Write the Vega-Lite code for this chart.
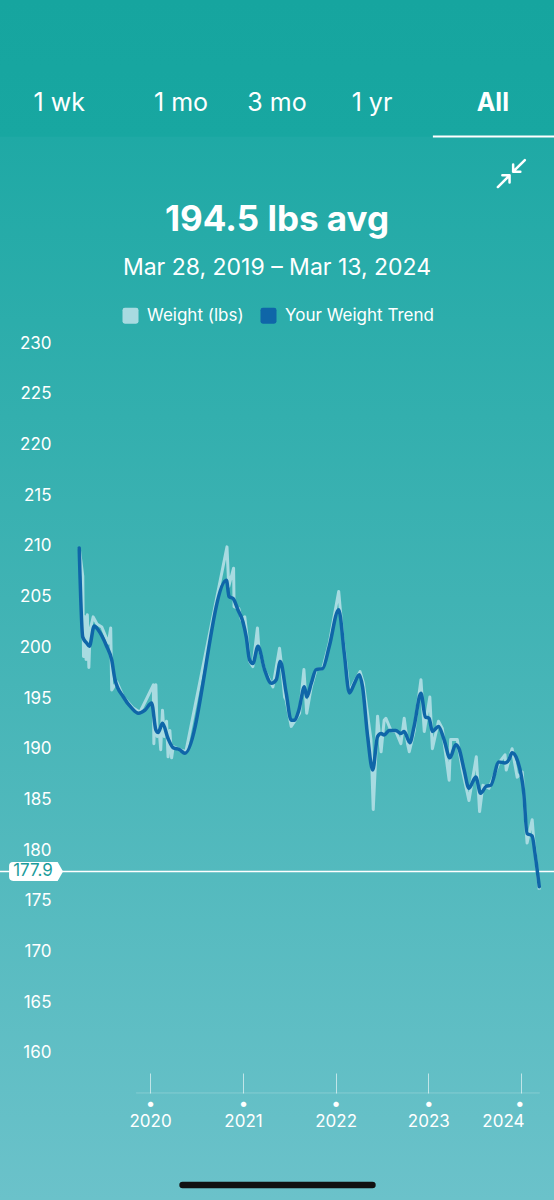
{
  "$schema": "https://vega.github.io/schema/vega-lite/v6.json",
  "width": 554,
  "height": 1200,
  "autosize": {"type": "none"},
  "padding": 0,
  "background": "#17a6a0",
  "config": {
    "font": "Inter",
    "view": {
      "stroke": null,
      "fill": {
        "gradient": "linear", "x1": 0, "y1": 0, "x2": 0, "y2": 1,
        "stops": [
          {"offset": 0, "color": "#16a59f"},
          {"offset": 0.1135, "color": "#18a7a1"},
          {"offset": 0.1145, "color": "#1fa9a5"},
          {"offset": 0.5, "color": "#40b3b4"},
          {"offset": 1, "color": "#6bc2ca"}
        ]
      }
    }
  },
  "title": {
    "text": "194.5 lbs avg",
    "subtitle": "Mar 28, 2019 – Mar 13, 2024",
    "anchor": "middle",
    "frame": "group",
    "font": "Inter",
    "fontSize": 35,
    "fontWeight": "bold",
    "color": "white",
    "subtitleFont": "Inter",
    "subtitleFontSize": 23,
    "subtitleColor": "white",
    "subtitlePadding": 19,
    "offset": -280
  },
  "datasets": {
    "weight": [
      {"date": "2019-03-28", "lbs": 209.8},
      {"date": "2019-04-11", "lbs": 207.0},
      {"date": "2019-04-14", "lbs": 199.1},
      {"date": "2019-04-20", "lbs": 203.0},
      {"date": "2019-04-24", "lbs": 198.8},
      {"date": "2019-04-29", "lbs": 203.2},
      {"date": "2019-05-05", "lbs": 198.0},
      {"date": "2019-05-10", "lbs": 201.7},
      {"date": "2019-05-22", "lbs": 203.0},
      {"date": "2019-06-06", "lbs": 202.3},
      {"date": "2019-06-25", "lbs": 202.0},
      {"date": "2019-07-21", "lbs": 200.4},
      {"date": "2019-07-30", "lbs": 201.9},
      {"date": "2019-08-03", "lbs": 195.8},
      {"date": "2019-08-23", "lbs": 196.6},
      {"date": "2019-09-18", "lbs": 195.1},
      {"date": "2019-10-27", "lbs": 194.0},
      {"date": "2019-11-22", "lbs": 193.6},
      {"date": "2019-12-16", "lbs": 194.8},
      {"date": "2020-01-14", "lbs": 196.3},
      {"date": "2020-01-16", "lbs": 190.5},
      {"date": "2020-01-24", "lbs": 196.3},
      {"date": "2020-01-29", "lbs": 191.2},
      {"date": "2020-02-06", "lbs": 191.8},
      {"date": "2020-02-12", "lbs": 189.9},
      {"date": "2020-02-19", "lbs": 193.8},
      {"date": "2020-02-26", "lbs": 191.2},
      {"date": "2020-03-06", "lbs": 192.7},
      {"date": "2020-03-12", "lbs": 189.2},
      {"date": "2020-03-19", "lbs": 191.8},
      {"date": "2020-03-26", "lbs": 189.1},
      {"date": "2020-04-01", "lbs": 190.2},
      {"date": "2020-04-27", "lbs": 189.9},
      {"date": "2020-05-21", "lbs": 189.7},
      {"date": "2020-10-30", "lbs": 209.9},
      {"date": "2020-11-06", "lbs": 206.0},
      {"date": "2020-11-25", "lbs": 207.8},
      {"date": "2020-11-27", "lbs": 204.0},
      {"date": "2020-12-16", "lbs": 203.8},
      {"date": "2020-12-26", "lbs": 202.7},
      {"date": "2021-01-08", "lbs": 203.0},
      {"date": "2021-01-14", "lbs": 201.7},
      {"date": "2021-01-27", "lbs": 198.6},
      {"date": "2021-02-09", "lbs": 198.1},
      {"date": "2021-02-27", "lbs": 201.9},
      {"date": "2021-03-04", "lbs": 200.1},
      {"date": "2021-03-27", "lbs": 197.8},
      {"date": "2021-04-29", "lbs": 196.1},
      {"date": "2021-05-25", "lbs": 199.9},
      {"date": "2021-06-01", "lbs": 198.4},
      {"date": "2021-06-14", "lbs": 195.1},
      {"date": "2021-06-20", "lbs": 194.8},
      {"date": "2021-07-10", "lbs": 192.2},
      {"date": "2021-07-23", "lbs": 192.7},
      {"date": "2021-08-12", "lbs": 193.5},
      {"date": "2021-08-29", "lbs": 197.8},
      {"date": "2021-09-09", "lbs": 193.5},
      {"date": "2021-09-27", "lbs": 196.1},
      {"date": "2021-10-16", "lbs": 197.8},
      {"date": "2021-11-11", "lbs": 197.9},
      {"date": "2021-12-07", "lbs": 200.4},
      {"date": "2022-01-13", "lbs": 205.5},
      {"date": "2022-01-29", "lbs": 201.0},
      {"date": "2022-02-24", "lbs": 195.6},
      {"date": "2022-03-16", "lbs": 196.6},
      {"date": "2022-04-07", "lbs": 197.6},
      {"date": "2022-04-20", "lbs": 196.5},
      {"date": "2022-05-20", "lbs": 190.9},
      {"date": "2022-05-29", "lbs": 184.0},
      {"date": "2022-06-06", "lbs": 188.2},
      {"date": "2022-06-15", "lbs": 193.2},
      {"date": "2022-06-29", "lbs": 189.7},
      {"date": "2022-07-11", "lbs": 192.8},
      {"date": "2022-07-18", "lbs": 193.0},
      {"date": "2022-08-07", "lbs": 191.8},
      {"date": "2022-08-26", "lbs": 191.7},
      {"date": "2022-09-15", "lbs": 190.5},
      {"date": "2022-09-28", "lbs": 193.0},
      {"date": "2022-10-11", "lbs": 190.5},
      {"date": "2022-10-18", "lbs": 189.7},
      {"date": "2022-11-06", "lbs": 191.7},
      {"date": "2022-12-03", "lbs": 196.8},
      {"date": "2022-12-16", "lbs": 191.7},
      {"date": "2023-01-07", "lbs": 195.1},
      {"date": "2023-01-17", "lbs": 190.0},
      {"date": "2023-02-10", "lbs": 192.7},
      {"date": "2023-02-25", "lbs": 192.0},
      {"date": "2023-03-24", "lbs": 186.9},
      {"date": "2023-03-30", "lbs": 190.9},
      {"date": "2023-04-25", "lbs": 190.9},
      {"date": "2023-05-15", "lbs": 187.9},
      {"date": "2023-06-10", "lbs": 184.9},
      {"date": "2023-07-09", "lbs": 189.2},
      {"date": "2023-07-22", "lbs": 183.8},
      {"date": "2023-08-04", "lbs": 186.4},
      {"date": "2023-08-28", "lbs": 186.1},
      {"date": "2023-10-06", "lbs": 188.6},
      {"date": "2023-10-30", "lbs": 189.4},
      {"date": "2023-11-04", "lbs": 187.9},
      {"date": "2023-11-27", "lbs": 190.0},
      {"date": "2023-12-17", "lbs": 187.2},
      {"date": "2024-01-06", "lbs": 187.7},
      {"date": "2024-01-25", "lbs": 180.7},
      {"date": "2024-02-14", "lbs": 183.0},
      {"date": "2024-02-21", "lbs": 180.8},
      {"date": "2024-03-13", "lbs": 176.1}
    ],
    "trend": [
      {"date": "2019-03-28", "lbs": 209.8},
      {"date": "2019-04-11", "lbs": 201.0},
      {"date": "2019-04-27", "lbs": 200.4},
      {"date": "2019-05-07", "lbs": 200.1},
      {"date": "2019-05-26", "lbs": 202.1},
      {"date": "2019-06-11", "lbs": 201.7},
      {"date": "2019-07-14", "lbs": 200.1},
      {"date": "2019-08-03", "lbs": 198.75},
      {"date": "2019-08-16", "lbs": 196.8},
      {"date": "2019-09-18", "lbs": 195.1},
      {"date": "2019-10-21", "lbs": 194.0},
      {"date": "2019-11-16", "lbs": 193.5},
      {"date": "2019-12-12", "lbs": 193.8},
      {"date": "2020-01-07", "lbs": 194.5},
      {"date": "2020-01-24", "lbs": 191.85},
      {"date": "2020-02-02", "lbs": 191.6},
      {"date": "2020-02-19", "lbs": 192.5},
      {"date": "2020-03-12", "lbs": 191.0},
      {"date": "2020-04-01", "lbs": 190.1},
      {"date": "2020-04-27", "lbs": 189.9},
      {"date": "2020-05-17", "lbs": 189.55},
      {"date": "2020-10-28", "lbs": 206.6},
      {"date": "2020-11-07", "lbs": 205.0},
      {"date": "2020-11-23", "lbs": 204.8},
      {"date": "2020-12-12", "lbs": 203.7},
      {"date": "2021-01-01", "lbs": 202.5},
      {"date": "2021-01-14", "lbs": 201.0},
      {"date": "2021-01-27", "lbs": 198.75},
      {"date": "2021-02-09", "lbs": 198.4},
      {"date": "2021-03-01", "lbs": 200.1},
      {"date": "2021-03-27", "lbs": 197.8},
      {"date": "2021-04-23", "lbs": 196.45},
      {"date": "2021-05-12", "lbs": 196.8},
      {"date": "2021-05-28", "lbs": 198.6},
      {"date": "2021-06-20", "lbs": 195.5},
      {"date": "2021-07-10", "lbs": 192.8},
      {"date": "2021-07-23", "lbs": 192.8},
      {"date": "2021-08-09", "lbs": 193.8},
      {"date": "2021-08-31", "lbs": 196.1},
      {"date": "2021-09-09", "lbs": 195.1},
      {"date": "2021-09-27", "lbs": 196.45},
      {"date": "2021-10-16", "lbs": 197.8},
      {"date": "2021-11-11", "lbs": 197.9},
      {"date": "2021-12-07", "lbs": 200.1},
      {"date": "2022-01-13", "lbs": 203.7},
      {"date": "2022-02-04", "lbs": 199.4},
      {"date": "2022-02-24", "lbs": 195.5},
      {"date": "2022-03-16", "lbs": 196.45},
      {"date": "2022-04-04", "lbs": 197.3},
      {"date": "2022-04-17", "lbs": 196.1},
      {"date": "2022-05-07", "lbs": 191.2},
      {"date": "2022-05-27", "lbs": 187.9},
      {"date": "2022-06-15", "lbs": 191.2},
      {"date": "2022-06-29", "lbs": 191.5},
      {"date": "2022-07-11", "lbs": 191.35},
      {"date": "2022-07-31", "lbs": 191.8},
      {"date": "2022-08-26", "lbs": 191.8},
      {"date": "2022-09-15", "lbs": 191.5},
      {"date": "2022-09-28", "lbs": 191.7},
      {"date": "2022-10-20", "lbs": 190.6},
      {"date": "2022-11-06", "lbs": 192.2},
      {"date": "2022-12-03", "lbs": 195.46},
      {"date": "2022-12-20", "lbs": 193.15},
      {"date": "2023-01-04", "lbs": 193.0},
      {"date": "2023-01-17", "lbs": 191.7},
      {"date": "2023-02-10", "lbs": 192.2},
      {"date": "2023-03-04", "lbs": 190.9},
      {"date": "2023-03-27", "lbs": 189.1},
      {"date": "2023-04-19", "lbs": 190.4},
      {"date": "2023-05-02", "lbs": 190.0},
      {"date": "2023-05-22", "lbs": 187.9},
      {"date": "2023-06-10", "lbs": 186.1},
      {"date": "2023-07-07", "lbs": 187.2},
      {"date": "2023-07-26", "lbs": 185.6},
      {"date": "2023-08-17", "lbs": 186.3},
      {"date": "2023-09-04", "lbs": 186.4},
      {"date": "2023-10-06", "lbs": 188.7},
      {"date": "2023-10-30", "lbs": 188.6},
      {"date": "2023-11-14", "lbs": 188.9},
      {"date": "2023-11-27", "lbs": 189.6},
      {"date": "2023-12-17", "lbs": 188.9},
      {"date": "2024-01-12", "lbs": 185.6},
      {"date": "2024-01-25", "lbs": 181.65},
      {"date": "2024-02-14", "lbs": 181.4},
      {"date": "2024-02-25", "lbs": 179.7},
      {"date": "2024-03-13", "lbs": 176.4}
    ],
    "latest": [{"label": "177.9", "lbs": 177.9}],
    "one": [{"n": 1}]
  },
  "layer": [
    {
      "data": {"name": "one"},
      "mark": {"type": "rule", "color": "rgba(255,255,255,0.22)", "strokeWidth": 1},
      "encoding": {"x": {"datum": 1573084800000, "type": "temporal"}, "x2": {"datum": 1710460800000}, "y": {"datum": 156.06, "type": "quantitative"}}
    },
    {
      "data": {"name": "latest"},
      "mark": {"type": "rule", "color": "white", "strokeWidth": 1.5},
      "encoding": {"y": {"field": "lbs", "type": "quantitative"}}
    },
    {
      "data": {"name": "weight"},
      "mark": {"type": "line", "strokeWidth": 3, "strokeJoin": "round"},
      "encoding": {
        "x": {
          "field": "date", "type": "temporal",
          "scale": {"domain": [{"year": 2018, "month": 5, "date": 20}, {"year": 2024, "month": 5, "date": 10}], "nice": false},
          "axis": {
            "orient": "bottom", "offset": -107, "title": null, "grid": false, "domain": false,
            "values": [{"year": 2020, "month": 1, "date": 1}, {"year": 2021, "month": 1, "date": 1}, {"year": 2022, "month": 1, "date": 1}, {"year": 2023, "month": 1, "date": 1}, {"year": 2024, "month": 1, "date": 1}],
            "labelExpr": "['•', timeFormat(datum.value, '%Y')]",
            "labelFont": "Inter", "labelFontSize": 17, "labelLineHeight": 18, "labelColor": "white",
            "labelPadding": 22, "labelOverlap": false, "labelFlush": false,
            "labelAlign": {"condition": {"test": "year(datum.value) == 2024", "value": "right"}, "value": "center"},
            "labelOffset": {"condition": {"test": "year(datum.value) == 2024", "value": 3}, "value": 0},
            "tickSize": -20, "tickColor": "rgba(255,255,255,0.6)", "tickWidth": 1
          }
        },
        "y": {
          "field": "lbs", "type": "quantitative",
          "scale": {"domain": [145.507, 263.817], "nice": false, "zero": false},
          "axis": {
            "orient": "left", "offset": -51, "title": null, "grid": false,
            "values": [160, 165, 170, 175, 180, 185, 190, 195, 200, 205, 210, 215, 220, 225, 230],
            "domain": false, "ticks": false, "tickSize": 0, "labelPadding": 0,
            "labelFont": "Inter", "labelFontSize": 17, "labelColor": "white"
          }
        },
        "color": {
          "datum": "Weight (lbs)", "type": "nominal",
          "scale": {"domain": ["Weight (lbs)", "Your Weight Trend"], "range": ["#a8dbe1", "#0f66a8"]},
          "legend": {
            "orient": "none", "legendX": 122, "legendY": 307, "direction": "horizontal", "title": null,
            "symbolType": "M-0.7,-1 L0.7,-1 Q1,-1 1,-0.7 L1,0.7 Q1,1 0.7,1 L-0.7,1 Q-1,1 -1,0.7 L-1,-0.7 Q-1,-1 -0.7,-1 Z",
            "symbolSize": 256, "symbolStrokeWidth": 0,
            "labelFont": "Inter", "labelFontSize": 17, "labelColor": "white", "labelOffset": 8, "columnPadding": 16,
            "encode": {"symbols": {"update": {"fill": {"scale": "color", "field": "value"}, "stroke": {"value": "transparent"}, "opacity": {"value": 1}}}}
          }
        }
      }
    },
    {
      "data": {"name": "trend"},
      "mark": {"type": "line", "strokeWidth": 3.5, "interpolate": "monotone", "strokeJoin": "round", "strokeCap": "round"},
      "encoding": {
        "x": {"field": "date", "type": "temporal"},
        "y": {"field": "lbs", "type": "quantitative"},
        "color": {"datum": "Your Weight Trend", "type": "nominal"}
      }
    },
    {
      "data": {"name": "latest"},
      "mark": {"type": "point", "filled": true, "color": "white", "opacity": 1, "size": 2916, "shape": "M-0.85,-0.352 L0.8,-0.352 L1,0 L0.8,0.352 L-0.85,0.352 Q-1,0.352 -1,0.2 L-1,-0.2 Q-1,-0.352 -0.85,-0.352 Z"},
      "encoding": {"x": {"datum": 1539043200000, "type": "temporal"}, "y": {"field": "lbs", "type": "quantitative"}}
    },
    {
      "data": {"name": "latest"},
      "mark": {"type": "text", "color": "#1a9c9c", "font": "Inter", "fontSize": 17, "dx": -3, "baseline": "middle"},
      "encoding": {"x": {"datum": 1539043200000, "type": "temporal"}, "y": {"field": "lbs", "type": "quantitative"}, "text": {"field": "label"}}
    },
    {
      "data": {"name": "one"},
      "mark": {"type": "text", "text": "1 wk", "color": "white", "font": "Inter", "fontSize": 25, "baseline": "middle"},
      "encoding": {"x": {"datum": 1546905600000, "type": "temporal"}, "y": {"datum": 253.66, "type": "quantitative"}}
    },
    {
      "data": {"name": "one"},
      "mark": {"type": "text", "text": "1 mo", "color": "white", "font": "Inter", "fontSize": 25, "baseline": "middle"},
      "encoding": {"x": {"datum": 1588377600000, "type": "temporal"}, "y": {"datum": 253.66, "type": "quantitative"}}
    },
    {
      "data": {"name": "one"},
      "mark": {"type": "text", "text": "3 mo", "color": "white", "font": "Inter", "fontSize": 25, "baseline": "middle"},
      "encoding": {"y": {"datum": 253.66, "type": "quantitative"}}
    },
    {
      "data": {"name": "one"},
      "mark": {"type": "text", "text": "1 yr", "color": "white", "font": "Inter", "fontSize": 25, "baseline": "middle"},
      "encoding": {"x": {"datum": {"year": 2022, "month": 5, "date": 24}, "type": "temporal"}, "y": {"datum": 253.66, "type": "quantitative"}}
    },
    {
      "data": {"name": "one"},
      "mark": {"type": "text", "text": "All", "color": "white", "font": "Inter", "fontSize": 25, "fontWeight": "bold", "baseline": "middle"},
      "encoding": {"x": {"datum": {"expr": "datetime(2023, 8, 12)"}, "type": "temporal"}, "y": {"datum": 253.66, "type": "quantitative"}}
    },
    {
      "data": {"name": "one"},
      "mark": {"type": "rule", "color": "white", "strokeWidth": 2},
      "encoding": {"x": {"datum": 1674086400000, "type": "temporal"}, "x2": {"datum": 1719705600000}, "y": {"datum": 250.36, "type": "quantitative"}}
    },
    {
      "data": {"name": "one"},
      "mark": {"type": "point", "filled": false, "color": "white", "opacity": 1, "strokeWidth": 2.5, "strokeCap": "round", "strokeJoin": "round", "size": 900, "shape": "M0.9,-0.9 L0.12,-0.12 M0.12,-0.6 L0.12,-0.12 L0.6,-0.12 M-0.9,0.9 L-0.12,0.12 M-0.6,0.12 L-0.12,0.12 L-0.12,0.6"},
      "encoding": {"x": {"datum": 1700784000000, "type": "temporal"}, "y": {"datum": 246.71, "type": "quantitative"}}
    },
    {
      "data": {"name": "one"},
      "mark": {"type": "rule", "color": "#111111", "strokeWidth": 6.5, "strokeCap": "round"},
      "encoding": {"x": {"datum": 1588896000000, "type": "temporal"}, "x2": {"datum": 1653523200000}, "y": {"datum": 146.99, "type": "quantitative"}}
    }
  ]
}
